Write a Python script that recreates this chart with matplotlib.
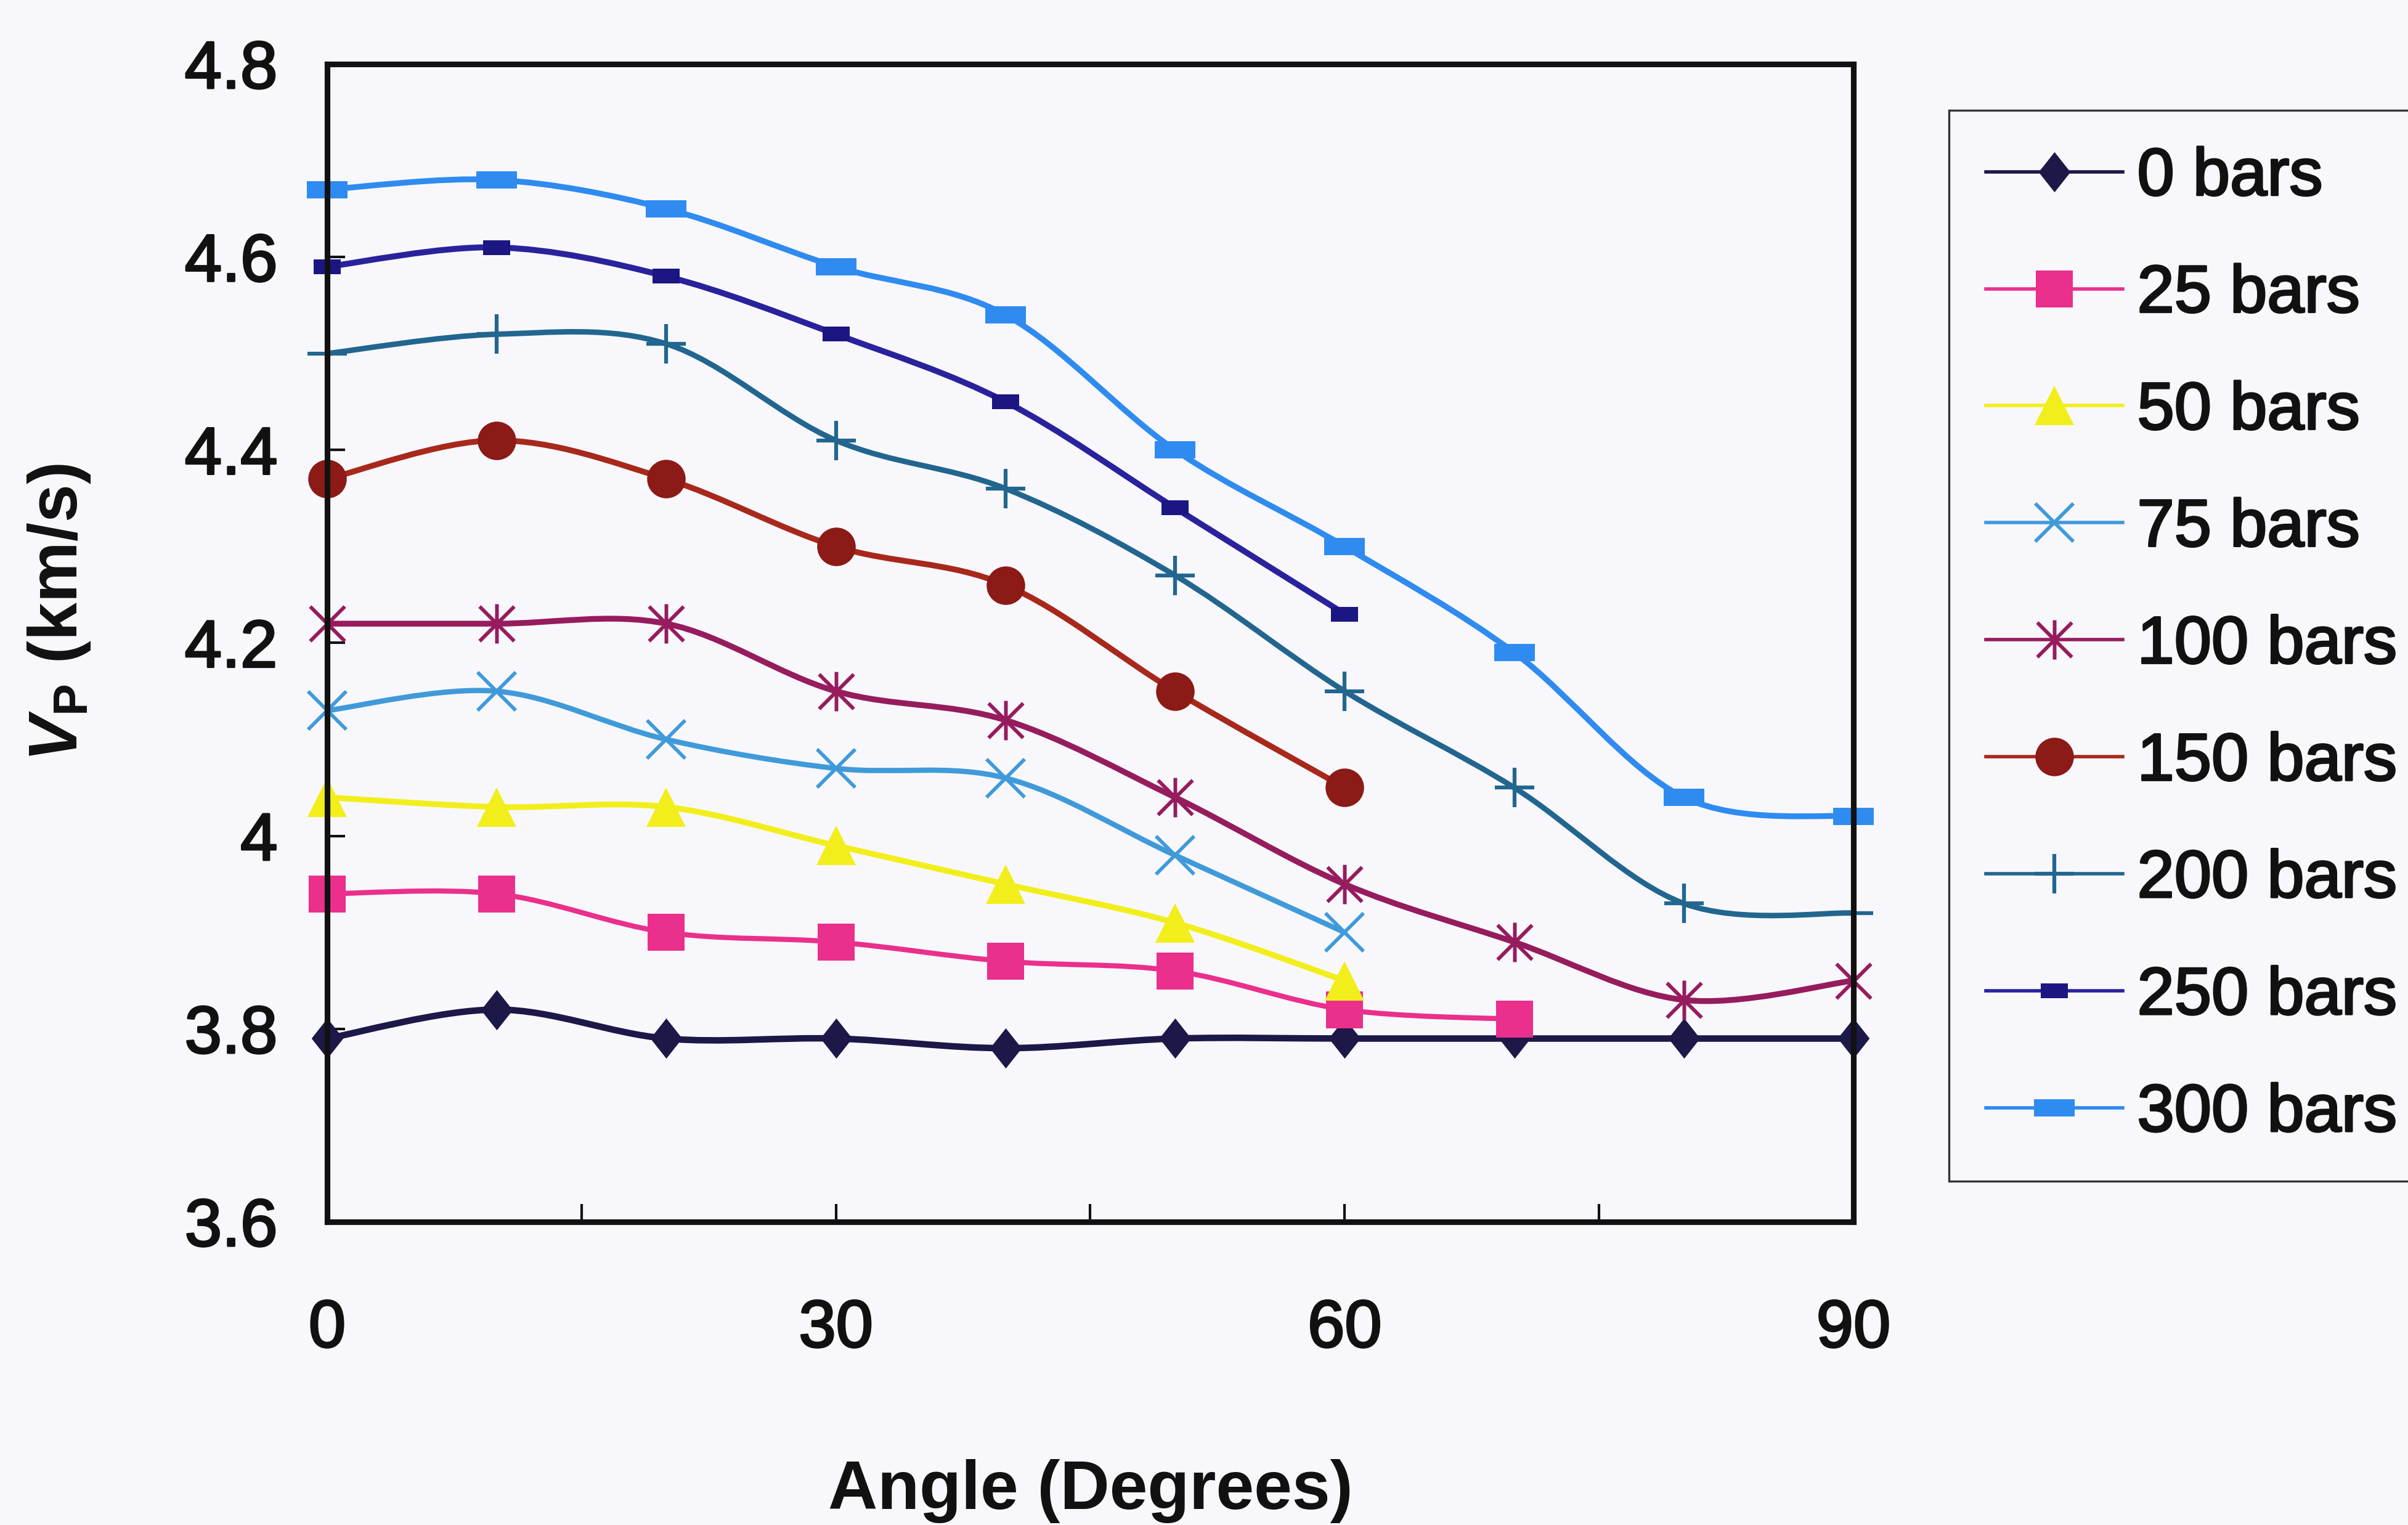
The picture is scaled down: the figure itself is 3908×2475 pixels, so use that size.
import numpy as np
import matplotlib
matplotlib.use("Agg")
import matplotlib.pyplot as plt
import matplotlib.patheffects as pe
from matplotlib.path import Path
from matplotlib.patches import PathPatch
from matplotlib.lines import Line2D
from matplotlib.ticker import FixedLocator, FuncFormatter

plt.rcParams.update({
    "font.family": ["Liberation Sans", "DejaVu Sans"],
    "mathtext.fontset": "custom",
    "mathtext.rm": "Liberation Sans",
    "mathtext.it": "Liberation Sans:italic:bold",
    "mathtext.bf": "Liberation Sans:bold",
})

# P-wave velocity (km/s) versus angle between stress and propagation direction
angles = [0, 10, 20, 30, 40, 50, 60, 70, 80, 90]

v_0bar = [3.79, 3.82, 3.79, 3.79, 3.78, 3.79, 3.79, 3.79, 3.79, 3.79]
v_25bar = [3.94, 3.94, 3.90, 3.89, 3.87, 3.86, 3.82, 3.81]
v_50bar = [4.04, 4.03, 4.03, 3.99, 3.95, 3.91, 3.85]
v_75bar = [4.13, 4.15, 4.10, 4.07, 4.06, 3.98, 3.90]
v_100bar = [4.22, 4.22, 4.22, 4.15, 4.12, 4.04, 3.95, 3.89, 3.83, 3.85]
v_150bar = [4.37, 4.41, 4.37, 4.30, 4.26, 4.15, 4.05]
v_200bar = [4.50, 4.52, 4.51, 4.41, 4.36, 4.27, 4.15, 4.05, 3.93, 3.92]
v_250bar = [4.59, 4.61, 4.58, 4.52, 4.45, 4.34, 4.23]
v_300bar = [4.67, 4.68, 4.65, 4.59, 4.54, 4.40, 4.30, 4.19, 4.04, 4.02]

series_labels = ["0 bars", "25 bars", "50 bars", "75 bars", "100 bars",
                 "150 bars", "200 bars", "250 bars", "300 bars"]
series_values = [v_0bar, v_25bar, v_50bar, v_75bar, v_100bar,
                 v_150bar, v_200bar, v_250bar, v_300bar]

x_ticks = [0, 15, 30, 45, 60, 75, 90]
x_labelled = [0, 30, 60, 90]
y_ticks = [3.6, 3.8, 4.0, 4.2, 4.4, 4.6, 4.8]

# custom marker shapes
diamond = [(0, 1), (0.79, 0), (0, -1), (-0.79, 0), (0, 1)]
small_rect = [(-1, -0.58), (1, -0.58), (1, 0.58), (-1, 0.58), (-1, -0.58)]
wide_rect = [(-1, -0.42), (1, -0.42), (1, 0.42), (-1, 0.42), (-1, -0.42)]
asterisk = Path([(0, -1), (0, 1), (-0.88, -0.88), (0.88, 0.88),
                 (-0.88, 0.88), (0.88, -0.88)],
                [Path.MOVETO, Path.LINETO, Path.MOVETO, Path.LINETO,
                 Path.MOVETO, Path.LINETO])

styles = [
    dict(color="#1c1848", mfc="#1c1848", marker=diamond, ms=47, lw=7.6, mew=0),
    dict(color="#ea2f8c", mfc="#ea2f8c", marker="s", ms=43, lw=6.0, mew=0),
    dict(color="#f2ee1c", mfc="#f2ee1c", marker="^", ms=46, lw=6.8, mew=0),
    dict(color="#409ada", mfc="none", marker="x", ms=45, lw=6.2, mew=4.2),
    dict(color="#961c5e", mfc="none", marker=asterisk, ms=46, lw=6.8, mew=4.3),
    dict(color="#a8281c", mfc="#8c1a16", marker="o", ms=45, lw=6.8, mew=0),
    dict(color="#22668f", mfc="none", marker="+", ms=46, lw=6.4, mew=4.5),
    dict(color="#2a229c", mfc="#1c1682", marker=small_rect, ms=31, lw=7.0, mew=0),
    dict(color="#2f8bf0", mfc="#2f8bf0", marker=wide_rect, ms=48, lw=6.8, mew=0),
]


def smooth_path(xs, ys):
    """Bezier path through the points, in the manner of a smoothed line chart."""
    pts = np.column_stack([xs, ys]).astype(float)
    n = len(pts)
    verts = [pts[0]]
    codes = [Path.MOVETO]
    for i in range(n - 1):
        p0 = pts[i - 1] if i > 0 else pts[i]
        p1 = pts[i]
        p2 = pts[i + 1]
        p3 = pts[i + 2] if i + 2 < n else pts[i + 1]
        verts += [p1 + (p2 - p0) / 6.0, p2 - (p3 - p1) / 6.0, p2]
        codes += [Path.CURVE4] * 3
    return Path(verts, codes)


W, H = 3908, 2475
fig = plt.figure(figsize=(W / 100, H / 100), dpi=100)
bg = "#f8f8fc"
ink = "#111111"
fig.patch.set_facecolor(bg)
thicken = [pe.withStroke(linewidth=2.4, foreground=ink)]

ax_left, ax_right, ax_top, ax_bottom = 531, 3008, 104, 1983
ax = fig.add_axes([ax_left / W, 1 - ax_bottom / H,
                   (ax_right - ax_left) / W, (ax_bottom - ax_top) / H])
ax.set_facecolor(bg)

handles = []
for label, vals, st in zip(series_labels, series_values, styles):
    xs = angles[:len(vals)]
    ax.add_patch(PathPatch(smooth_path(xs, vals), facecolor="none",
                           edgecolor=st["color"], lw=st["lw"],
                           capstyle="round", joinstyle="round", zorder=2))
    mec = st["color"] if st["mfc"] == "none" else st["mfc"]
    ax.plot(xs, vals, linestyle="none", marker=st["marker"],
            markersize=st["ms"], markerfacecolor=st["mfc"],
            markeredgecolor=mec, markeredgewidth=st["mew"], zorder=3,
            clip_on=False)
    handles.append(Line2D([], [], color=st["color"], lw=4.0,
                          marker=st["marker"], markersize=st["ms"],
                          markerfacecolor=st["mfc"], markeredgecolor=mec,
                          markeredgewidth=st["mew"], label=label))

ax.set_xlim(0, 90)
ax.set_ylim(3.6, 4.8)

ax.xaxis.set_major_locator(FixedLocator(x_ticks))
ax.xaxis.set_major_formatter(
    FuncFormatter(lambda v, p: f"{v:g}" if round(v) in x_labelled else ""))
ax.yaxis.set_major_locator(FixedLocator(y_ticks))
ax.yaxis.set_major_formatter(FuncFormatter(lambda v, p: f"{v:g}"))

ax.tick_params(axis="both", direction="in", length=21, width=3,
               color=ink, labelsize=78, labelcolor=ink)
ax.tick_params(axis="x", pad=90)
ax.tick_params(axis="y", pad=58)
for t in ax.get_xticklabels() + ax.get_yticklabels():
    t.set_path_effects(thicken)

for sp in ax.spines.values():
    sp.set_linewidth(6.6)
    sp.set_color(ink)
    sp.set_zorder(4)

ax.set_xlabel("Angle (Degrees)", fontsize=80, fontweight="bold", color=ink)
ax.xaxis.set_label_coords(0.5, -0.205)
ax.set_ylabel(r"$V_\mathbf{P}$ (km/s)", fontsize=80, fontweight="bold",
              color=ink)
ax.yaxis.set_label_coords(-0.154, 0.526)

leg = fig.legend(handles=handles, loc="upper left",
                 bbox_to_anchor=(3163 / W, 1 - 179 / H),
                 bbox_transform=fig.transFigure, borderaxespad=0,
                 fontsize=78, frameon=True, fancybox=False, shadow=False,
                 borderpad=0.55, handlelength=2.05, handletextpad=0.22,
                 labelspacing=0.83, numpoints=1)
frame = leg.get_frame()
frame.set_edgecolor("#333333")
frame.set_linewidth(2.4)
frame.set_facecolor(bg)
frame.set_alpha(1)
for t in leg.get_texts():
    t.set_color(ink)
    t.set_path_effects(thicken)

fig.savefig("out.png", dpi=100, facecolor=fig.get_facecolor())
